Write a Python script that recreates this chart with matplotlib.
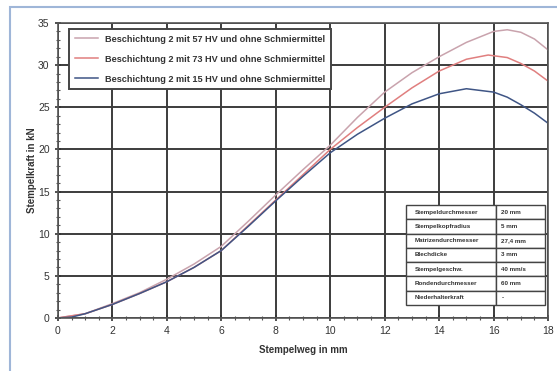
import matplotlib
matplotlib.use("Agg")
import matplotlib.pyplot as plt
from matplotlib.patches import Rectangle
from matplotlib.ticker import MultipleLocator

plt.rcParams['font.family'] = ['Liberation Sans', 'DejaVu Sans']

# Stempelweg (mm) and Stempelkraft (kN)
x_57 = [0, 1, 2, 3, 4, 5, 6, 7, 8, 9, 10, 11, 12, 13, 14, 15, 16, 16.5, 17, 17.5, 18]
f_57 = [0, 0.5, 1.7, 3.0, 4.6, 6.4, 8.5, 11.5, 14.6, 17.6, 20.5, 23.8, 26.8, 29.1, 31.0, 32.7, 34.0, 34.2, 33.9, 33.1, 31.8]

x_73 = [0, 1, 2, 3, 4, 5, 6, 7, 8, 9, 10, 11, 12, 13, 14, 15, 15.8, 16.5, 17, 17.5, 18]
f_73 = [0, 0.5, 1.6, 2.9, 4.3, 6.0, 8.0, 11.0, 14.0, 17.0, 20.0, 22.6, 25.0, 27.3, 29.3, 30.7, 31.2, 30.9, 30.2, 29.3, 28.1]

x_15 = [0, 0.5, 1, 2, 3, 4, 5, 6, 7, 8, 9, 10, 11, 12, 13, 14, 15, 16, 16.5, 17, 17.5, 18]
f_15 = [0, 0.1, 0.5, 1.6, 2.9, 4.3, 6.0, 8.0, 10.9, 13.9, 16.8, 19.6, 21.8, 23.7, 25.4, 26.6, 27.2, 26.8, 26.2, 25.3, 24.3, 23.1]

labels = ["Beschichtung 2 mit 57 HV und ohne Schmiermittel",
          "Beschichtung 2 mit 73 HV und ohne Schmiermittel",
          "Beschichtung 2 mit 15 HV und ohne Schmiermittel"]
colors = ["#c9a3ad", "#e07f7f", "#3f5585"]

# Versuchsparameter
param_names = ["Stempeldurchmesser", "Stempelkopfradius", "Matrizendurchmesser",
               "Blechdicke", "Stempelgeschw.", "Rondendurchmesser", "Niederhalterkraft"]
param_values = ["20 mm", "5 mm", "27,4 mm", "3 mm", "40 mm/s", "60 mm", "-"]

fig = plt.figure(figsize=(5.57, 3.71), dpi=100)
fig.patches.append(Rectangle((10 / 557, -0.05), 1.1, 1 - 7 / 371 + 0.05,
                             transform=fig.transFigure, fill=False,
                             edgecolor="#9fb6d8", linewidth=1.5))
ax = fig.add_axes([0.104, 0.143, 0.880, 0.795])

ax.plot(x_57, f_57, color=colors[0], lw=1.1, label=labels[0])
ax.plot(x_73, f_73, color=colors[1], lw=1.1, label=labels[1])
ax.plot(x_15, f_15, color=colors[2], lw=1.1, label=labels[2])

ax.set_xlim(0, 18)
ax.set_ylim(0, 35)
ax.xaxis.set_major_locator(MultipleLocator(2))
ax.xaxis.set_minor_locator(MultipleLocator(0.5))
ax.yaxis.set_major_locator(MultipleLocator(5))
ax.yaxis.set_minor_locator(MultipleLocator(1))
ax.grid(True, which="major", color="#3c3c3c", lw=1.4)
ax.tick_params(which="major", direction="inout", length=5, width=1.2,
               labelsize=7.5, colors="#333333")
ax.tick_params(which="minor", direction="inout", length=3, width=0.8, colors="#555555")
for s in ax.spines.values():
    s.set_color("#555555")
    s.set_linewidth(1.2)

ax.set_xlabel("Stempelweg in mm", fontsize=7, fontweight="bold", color="#333333", labelpad=6)
ax.set_ylabel("Stempelkraft in kN", fontsize=7, fontweight="bold", color="#333333", labelpad=1)

leg = ax.legend(loc="upper left", bbox_to_anchor=(0.014, 0.995),
                prop={"size": 6.6, "weight": "bold"},
                handlelength=2.5, borderpad=0.6, labelspacing=1.2, fancybox=False,
                framealpha=1)
leg.get_frame().set_edgecolor("#444444")
leg.get_frame().set_linewidth(1.4)
for t in leg.get_texts():
    t.set_color("#333333")

rows = [[n, v] for n, v in zip(param_names, param_values)]
tab = ax.table(cellText=rows, colWidths=[0.65, 0.35], cellLoc="left",
               bbox=[0.710, 0.044, 0.284, 0.339], zorder=5)
tab.auto_set_font_size(False)
tab.set_fontsize(4.5)
for (r, c), cell in tab.get_celld().items():
    cell.set_edgecolor("#444444")
    cell.set_linewidth(1.0)
    cell.set_facecolor("white")
    cell.get_text().set_fontweight("bold")
    cell.get_text().set_color("#333333")

fig.savefig("out.png", dpi=100)
